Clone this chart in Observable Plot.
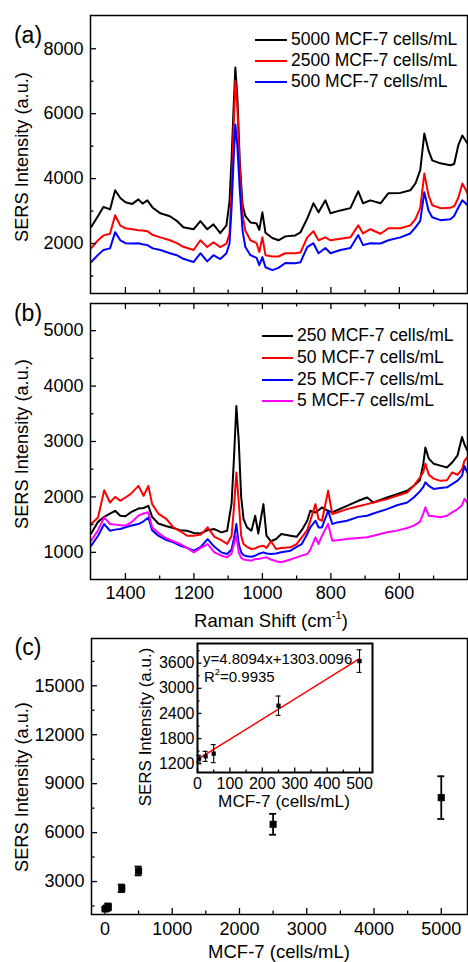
<!DOCTYPE html>
<html><head><meta charset="utf-8">
<script src="https://cdn.jsdelivr.net/npm/d3@7"></script>
<script src="https://cdn.jsdelivr.net/npm/@observablehq/plot@0.6"></script>
<style>
body{margin:0;background:#fff;}
#fig{position:relative;width:468px;height:962px;overflow:hidden;background:#fff;font-family:"Liberation Sans",Arial,Helvetica,sans-serif;color:#000;}
#fig svg{position:absolute;}
.t{position:absolute;white-space:nowrap;line-height:1;}
.c{transform:translate(-50%,-50%);}
.l{transform:translate(0,-50%);}
.r{transform:translate(-50%,-50%) rotate(-90deg);}
.sw{position:absolute;height:2px;}
</style></head><body><div id="fig"></div>
<script>
const FONT = '"Liberation Sans", Arial, Helvetica, sans-serif';

// ---- Panel (a): Raman shift (cm-1) and SERS intensity ----
const shiftA = [1500,1480,1464,1445,1430,1415,1400,1380,1362,1350,1336,1320,1298,1270,1250,1231,1201,1181,1161,1143,1123,1105,1096,1090,1084,1079,1073,1066,1058,1050,1035,1017,1009,1000,991,971,953,933,904,889,869,851,836,816,801,772,743,720,706,685,655,632,597,568,553,539,527,515,504,480,451,440,428,416,401];
const a5000 = [2510,2850,3130,3050,3640,3400,3270,3220,3360,3230,3330,3100,2930,2840,2700,2500,2440,2690,2440,2590,2320,2560,3300,4600,6200,7420,6500,4500,3200,2850,2650,2620,2420,2960,2330,2170,2100,2220,2250,2340,2770,3240,2960,3330,2930,3020,3090,3610,3240,3330,3240,3550,3560,3640,3850,4260,5390,4870,4560,4470,4410,4450,5020,5330,5080];
const a2500 = [1860,2100,2250,2300,2870,2550,2470,2440,2410,2400,2380,2260,2190,2100,2010,1900,1800,2100,1890,2040,1890,2000,2300,3600,5600,7020,6200,4300,2900,2400,2100,2010,1740,2190,1640,1600,1600,1700,1700,1720,2190,2380,2100,2190,2100,2150,2190,2560,2310,2440,2300,2470,2470,2560,2750,3100,4160,3490,3180,3090,3100,3150,3400,3850,3550];
const a500 = [1430,1650,1800,1850,2350,2100,2010,2000,2010,1980,1950,1850,1800,1700,1640,1530,1430,1700,1450,1640,1520,1700,2000,3100,4600,5670,5000,3640,2400,1900,1640,1560,1330,1580,1270,1180,1250,1400,1390,1420,1890,2010,1700,1860,1700,1800,1860,2260,1950,2010,2000,2100,2190,2310,2500,2700,3580,3020,2810,2720,2750,2850,3100,3330,3180];
const legendA = ["5000 MCF-7 cells/mL","2500 MCF-7 cells/mL","500 MCF-7 cells/mL"];
const colorsA = ["#000000","#ff0000","#0000ff"];

// ---- Panel (b) ----
const shiftB = [1500,1480,1462,1445,1430,1415,1400,1385,1362,1347,1333,1322,1304,1280,1260,1240,1220,1200,1180,1160,1140,1120,1103,1090,1083,1076,1069,1062,1055,1045,1032,1021,1012,997,988,975,960,945,918,900,885,869,860,845,836,826,808,796,782,753,720,694,676,636,607,577,558,540,530,524,514,500,480,461,446,430,417,410,402];
const b250 = [1340,1550,1640,1700,1750,1660,1650,1720,1790,1800,1840,1640,1520,1470,1440,1400,1390,1350,1340,1400,1420,1360,1390,1880,2700,3640,3000,2000,1600,1450,1390,1660,1340,1870,1300,1200,1240,1330,1300,1280,1400,1570,1750,1720,1760,1810,1750,1720,1760,1840,1930,1990,1900,1990,2050,2110,2200,2300,2600,2890,2690,2600,2565,2530,2620,2750,3080,2950,2840];
const b50 = [1510,1630,2120,1900,2000,1930,1990,2050,2200,2020,2200,1870,1700,1600,1450,1380,1300,1300,1320,1450,1280,1220,1150,1300,1810,2440,1900,1300,1150,1100,1060,1070,1100,1120,1080,1200,1060,1080,1090,1150,1270,1400,1570,1870,1600,1570,2110,1690,1720,1780,1830,1870,1900,1960,2020,2080,2200,2350,2450,2600,2400,2330,2290,2300,2440,2400,2500,2650,2715];
const b25 = [1120,1300,1510,1390,1410,1420,1450,1480,1510,1560,1630,1400,1300,1220,1180,1120,1080,1030,1100,1240,1100,1000,970,1050,1250,1510,1150,1000,950,930,920,940,970,1000,980,970,980,1000,1030,1100,1150,1330,1450,1570,1450,1450,1750,1510,1540,1570,1640,1660,1700,1780,1850,1900,1990,2100,2180,2264,2200,2144,2160,2174,2230,2294,2384,2560,2444];
const b5 = [1210,1400,1632,1512,1500,1490,1482,1530,1662,1700,1722,1452,1350,1250,1200,1150,1080,1000,1080,1150,1000,940,910,980,1150,1301,1000,900,870,860,850,880,880,900,910,870,840,820,870,910,940,971,1050,1271,1151,1300,1513,1211,1220,1241,1260,1271,1300,1362,1392,1440,1482,1550,1700,1812,1662,1650,1632,1660,1722,1780,1850,1963,1900];
const legendB = ["250 MCF-7 cells/mL","50 MCF-7 cells/mL","25 MCF-7 cells/mL","5 MCF-7 cells/mL"];
const colorsB = ["#000000","#ff0000","#0000ff","#ff00ff"];

// ---- Panel (c) ----
const cells = [5,25,50,250,500,2500,5000];
const sers = [1320,1375,1440,2585,3650,6510,8145];
const sersErr = [80,120,215,230,270,640,1310];
const fitSlope = 4.8094, fitIntercept = 1303.0096;
const fitCells = [0,500];

// ---- tick values ----
const ramanMajor = [1400,1200,1000,800,600];
const ramanMinor = [1300,1100,900,700,500];
const aYMajor = [2000,4000,6000,8000], aYMinor = [1000,3000,5000,7000];
const bYMajor = [1000,2000,3000,4000,5000], bYMinor = [1500,2500,3500,4500];
const cXMajor = [0,1000,2000,3000,4000,5000], cXMinor = [500,1500,2500,3500,4500];
const cYMajor = [3000,6000,9000,12000,15000], cYMinor = [1500,4500,7500,10500,13500,16500];
const iXMajor = [0,100,200,300,400,500], iXMinor = [50,150,250,350,450];
const iYMajor = [1200,1800,2400,3000,3600], iYMinor = [1500,2100,2700,3300,3900];

const fig = document.getElementById("fig");
const fmt = d => String(d);
const tb = (v, len, ih, sw=1.3) => Plot.ruleX(v, {x: d => d, insetTop: ih - len, stroke: "#000", strokeWidth: sw});
const tt = (v, len, ih, sw=1.3) => Plot.ruleX(v, {x: d => d, insetBottom: ih - len, stroke: "#000", strokeWidth: sw});
const tl = (v, len, iw, sw=1.3) => Plot.ruleY(v, {y: d => d, insetRight: iw - len, stroke: "#000", strokeWidth: sw});
const st = (fs) => ({fontFamily: FONT, fontSize: fs, color: "#000", background: "transparent", overflow: "visible"});
function place(svg, left, top){ svg.style.left = left + "px"; svg.style.top = top + "px"; fig.appendChild(svg); }
const LW = 2;

// Panel (a)
{
  const W=468,H=300,mt=15,mb=7,ml=90,mr=1, ih=H-mt-mb, iw=W-ml-mr;
  const svg = Plot.plot({
    width: W, height: H, marginTop: mt, marginBottom: mb, marginLeft: ml, marginRight: mr,
    style: st("18px"),
    x: {domain: [1502, 401], axis: null},
    y: {domain: [460, 9025], ticks: aYMajor, tickSize: 0, tickPadding: 7, tickFormat: fmt, label: null},
    marks: [
      Plot.line(shiftA, {x: d => d, y: a5000, stroke: colorsA[0], strokeWidth: LW}),
      Plot.line(shiftA, {x: d => d, y: a2500, stroke: colorsA[1], strokeWidth: LW}),
      Plot.line(shiftA, {x: d => d, y: a500, stroke: colorsA[2], strokeWidth: LW}),
      Plot.frame({stroke: "#000", strokeWidth: 1.5}),
      tb(ramanMajor, 6, ih), tb(ramanMinor, 3.5, ih),
      tl(aYMajor, 6, iw), tl(aYMinor, 3.5, iw)
    ]
  });
  place(svg, 0, 0);
}
// Panel (b)
{
  const W=468,H=330,mt=3,mb=51,ml=90,mr=1, ih=H-mt-mb, iw=W-ml-mr;
  const svg = Plot.plot({
    width: W, height: H, marginTop: mt, marginBottom: mb, marginLeft: ml, marginRight: mr,
    style: st("18px"),
    x: {domain: [1502, 401], ticks: ramanMajor, tickSize: 0, tickPadding: 7, tickFormat: fmt, label: null},
    y: {domain: [510, 5490], ticks: bYMajor, tickSize: 0, tickPadding: 7, tickFormat: fmt, label: null},
    marks: [
      Plot.line(shiftB, {x: d => d, y: b250, stroke: colorsB[0], strokeWidth: LW}),
      Plot.line(shiftB, {x: d => d, y: b50, stroke: colorsB[1], strokeWidth: LW}),
      Plot.line(shiftB, {x: d => d, y: b25, stroke: colorsB[2], strokeWidth: LW}),
      Plot.line(shiftB, {x: d => d, y: b5, stroke: colorsB[3], strokeWidth: LW}),
      Plot.frame({stroke: "#000", strokeWidth: 1.5}),
      tb(ramanMajor, 6, ih), tb(ramanMinor, 3.5, ih),
      tt(ramanMajor, 6, ih), tt(ramanMinor, 3.5, ih),
      tl(bYMajor, 6, iw), tl(bYMinor, 3.5, iw)
    ]
  });
  place(svg, 0, 300);
}
// Panel (c)
{
  const W=468,H=332,mt=8,mb=48,ml=91,mr=1, ih=H-mt-mb, iw=W-ml-mr;
  const lo = sers.map((v,i) => v - sersErr[i]);
  const hi = sers.map((v,i) => v + sersErr[i]);
  const svg = Plot.plot({
    width: W, height: H, marginTop: mt, marginBottom: mb, marginLeft: ml, marginRight: mr,
    style: st("18px"),
    x: {domain: [-200, 5390], ticks: cXMajor, tickSize: 0, tickPadding: 8, tickFormat: fmt, label: null},
    y: {domain: [980, 17900], ticks: cYMajor, tickSize: 0, tickPadding: 7, tickFormat: fmt, label: null},
    marks: [
      Plot.ruleX(cells, {x: d => d, y1: lo, y2: hi, stroke: "#000", strokeWidth: 1.8}),
      Plot.ruleY(cells, {y: lo, x1: d => d, x2: d => d, insetLeft: -3.5, insetRight: -3.5, stroke: "#000", strokeWidth: 1.8}),
      Plot.ruleY(cells, {y: hi, x1: d => d, x2: d => d, insetLeft: -3.5, insetRight: -3.5, stroke: "#000", strokeWidth: 1.8}),
      Plot.dot(cells, {x: d => d, y: sers, symbol: "square", r: 4, fill: "#000", stroke: "none"}),
      Plot.frame({stroke: "#000", strokeWidth: 1.5}),
      tb(cXMajor, 6, ih), tb(cXMinor, 3.5, ih),
      tl(cYMajor, 6, iw), tl(cYMinor, 3.5, iw)
    ]
  });
  place(svg, 0, 630);
}
// Inset
{
  const W=250,H=185,mt=13,mb=43,ml=67,mr=8, ih=H-mt-mb, iw=W-ml-mr;
  const lo = sers.map((v,i) => v - sersErr[i]).slice(0,5);
  const hi = sers.map((v,i) => v + sersErr[i]).slice(0,5);
  const xs = cells.slice(0,5), ys = sers.slice(0,5);
  const svg = Plot.plot({
    width: W, height: H, marginTop: mt, marginBottom: mb, marginLeft: ml, marginRight: mr,
    style: st("16px"),
    x: {domain: [0, 540], ticks: iXMajor, tickSize: 0, tickPadding: 5, tickFormat: fmt, label: null},
    y: {domain: [990, 4070], ticks: iYMajor, tickSize: 0, tickPadding: 3, tickFormat: fmt, label: null},
    marks: [
      Plot.line(fitCells, {x: d => d, y: d => fitSlope * d + fitIntercept, stroke: "#ff0000", strokeWidth: 1.5}),
      Plot.ruleX(xs, {x: d => d, y1: lo, y2: hi, stroke: "#000", strokeWidth: 1.1}),
      Plot.ruleY(xs, {y: lo, x1: d => d, x2: d => d, insetLeft: -2.5, insetRight: -2.5, stroke: "#000", strokeWidth: 1.1}),
      Plot.ruleY(xs, {y: hi, x1: d => d, x2: d => d, insetLeft: -2.5, insetRight: -2.5, stroke: "#000", strokeWidth: 1.1}),
      Plot.dot(xs, {x: d => d, y: ys, symbol: "square", r: 2.4, fill: "#000", stroke: "none"}),
      Plot.frame({stroke: "#000", strokeWidth: 2}),
      tb(iXMajor, 4.5, ih), tb(iXMinor, 2.5, ih),
      tl(iYMajor, 4.5, iw), tl(iYMinor, 2.5, iw)
    ]
  });
  place(svg, 130, 630);
}

// ---- HTML text ----
function txt(html, x, y, size, cls){
  const d = document.createElement("div");
  d.className = "t " + cls;
  d.style.left = x + "px"; d.style.top = y + "px"; d.style.fontSize = size + "px";
  d.innerHTML = html; fig.appendChild(d); return d;
}
txt("(a)", 28, 35, 23, "c");
txt("(b)", 28, 313, 23, "c");
txt("(c)", 28, 647, 23, "c");
txt("SERS Intensity (a.u.)", 22, 157, 18.2, "r");
txt("SERS Intensity (a.u.)", 22, 444, 18.2, "r");
txt("SERS Intensity (a.u.)", 22, 787, 18.2, "r");
txt('Raman Shift (cm<span style="font-size:0.6em;vertical-align:0.75em">-1</span>)', 271, 620, 18.5, "c");
txt("MCF-7 (cells/mL)", 279, 952, 18.5, "c");
txt("SERS Intensity (a.u.)", 145, 727, 17, "r");
txt("MCF-7 (cells/mL)", 284, 802, 17.2, "c");
txt("y=4.8094x+1303.0096", 203, 657.5, 15, "l");
txt('R<span style="font-size:0.62em;vertical-align:0.7em">2</span>=0.9935', 204, 676, 15, "l");

function legend(labels, colors, x0, x1, tx, ys){
  labels.forEach((lab, i) => {
    const s = document.createElement("div");
    s.className = "sw";
    s.style.left = x0 + "px"; s.style.width = (x1 - x0) + "px";
    s.style.top = (ys[i] - 1) + "px"; s.style.background = colors[i];
    fig.appendChild(s);
    txt(lab, tx, ys[i], 17.5, "l");
  });
}
legend(legendA, colorsA, 255, 287, 291, [40, 61, 82.3]);
legend(legendB, colorsB, 262, 293, 297, [336, 358.3, 380, 401]);
</script></body></html>
